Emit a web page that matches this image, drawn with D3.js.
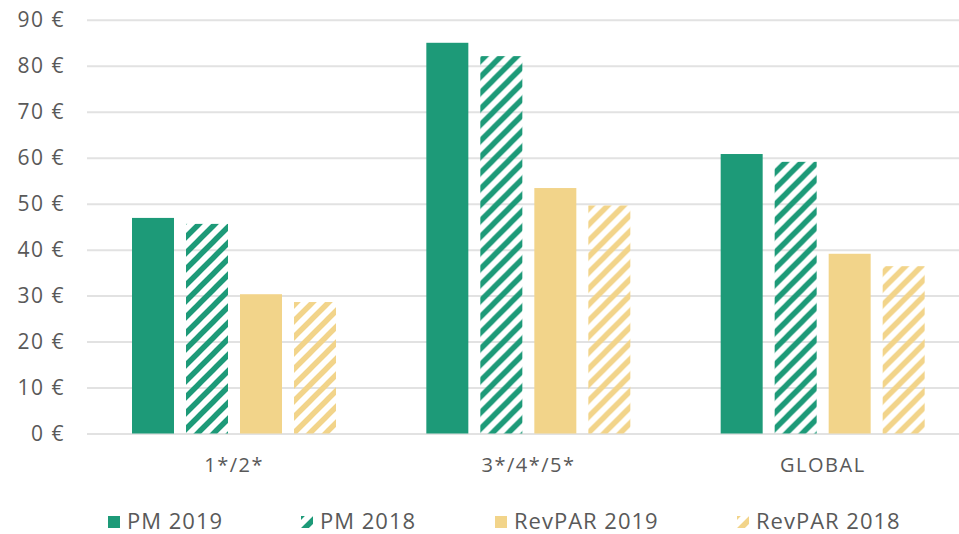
<!DOCTYPE html>
<html>
<head>
<meta charset="utf-8">
<script src="https://cdn.jsdelivr.net/npm/d3@7"></script>
<style>
  html, body { margin: 0; padding: 0; background: #fff; overflow: hidden; }
  svg { display: block; font-family: 'Open Sans', sans-serif; }
</style>
</head>
<body>
<svg></svg>
<script>
const categories = ['1*/2*', '3*/4*/5*', 'GLOBAL']
const seriesNames = ['PM 2019', 'PM 2018', 'RevPAR 2019', 'RevPAR 2018']
const pm2019 = [46.9, 85.0, 60.8]
const pm2018 = [45.6, 82.1, 59.1]
const revpar2019 = [30.3, 53.4, 39.1]
const revpar2018 = [28.6, 49.6, 36.4]
const yTicks = [0, 10, 20, 30, 40, 50, 60, 70, 80, 90]

const green = '#1d9a78'
const yellow = '#f2d48a'
const textColor = '#595959'

const w = 959
const h = 534

let svg = d3.select('svg')
    .attr('width', w)
    .attr('height', h)

// hatch patterns for the 2018 series
let defs = svg.append('defs')
let makeHatch = (id, color) => {
    defs.append('pattern')
        .attr('id', id)
        .attr('patternUnits', 'userSpaceOnUse')
        .attr('width', 16)
        .attr('height', 16)
        .append('path')
        .attr('d', 'M-4,4 L4,-4 M0,16 L16,0 M12,20 L20,12')
        .attr('stroke', color)
        .attr('stroke-width', 5.5)
}
makeHatch('hatch-green', green)
makeHatch('hatch-yellow', yellow)

const fills = [green, 'url(#hatch-green)', yellow, 'url(#hatch-yellow)']
const values = [pm2019, pm2018, revpar2019, revpar2018]

let x0 = d3.scaleBand()
    .domain(categories)
    .range([87, 970])

let x1 = d3.scaleBand()
    .domain(seriesNames)
    .range([45, 249])
    .paddingInner(12 / 54)

let y = d3.scaleLinear()
    .domain([0, 90])
    .range([433.5, 19.8])

// y axis with gridlines
let yAxis = svg.append('g')
    .attr('transform', 'translate(87,0)')
    .call(d3.axisLeft(y)
        .tickValues(yTicks)
        .tickSize(-(w - 87))
        .tickPadding(22)
        .tickFormat(d => d + ' €'))
yAxis.select('.domain').remove()
yAxis.selectAll('.tick line')
    .attr('stroke', '#e2e2e2')
    .attr('stroke-width', 2)
yAxis.selectAll('.tick text')
    .attr('fill', textColor)
    .style('font-size', '21px')
    .style('letter-spacing', '1.5px')
    .style('font-family', "'Open Sans', sans-serif")

// bars
let groups = svg.selectAll('.group')
    .data(categories)
    .enter()
    .append('g')
    .attr('class', 'group')
    .attr('transform', d => 'translate(' + x0(d) + ',0)')

groups.selectAll('rect')
    .data((cat, i) => seriesNames.map((s, j) => ({ s: s, v: values[j][i], f: fills[j] })))
    .enter()
    .append('rect')
    .attr('x', d => x1(d.s))
    .attr('width', x1.bandwidth())
    .attr('y', d => y(d.v))
    .attr('height', d => y(0) - y(d.v))
    .attr('fill', d => d.f)

// category axis
let xAxis = svg.append('g')
    .attr('transform', 'translate(0,433.5)')
    .call(d3.axisBottom(x0).tickSize(0).tickPadding(24))
xAxis.select('.domain').remove()
xAxis.selectAll('.tick text')
    .attr('fill', textColor)
    .style('font-size', '20px')
    .style('letter-spacing', '1.5px')
    .style('font-family', "'Open Sans', sans-serif")

// legend
const legendX = [108, 301, 495, 737]
let legend = svg.selectAll('.legend')
    .data(seriesNames)
    .enter()
    .append('g')
    .attr('class', 'legend')
    .attr('transform', (d, i) => 'translate(' + legendX[i] + ',516)')

legend.append('rect')
    .attr('width', 12)
    .attr('height', 12)
    .attr('fill', (d, i) => fills[i])

legend.append('text')
    .attr('x', 19)
    .attr('y', 13)
    .attr('fill', textColor)
    .style('font-size', '22px')
    .style('letter-spacing', '1px')
    .text(d => d)
</script>
</body>
</html>
